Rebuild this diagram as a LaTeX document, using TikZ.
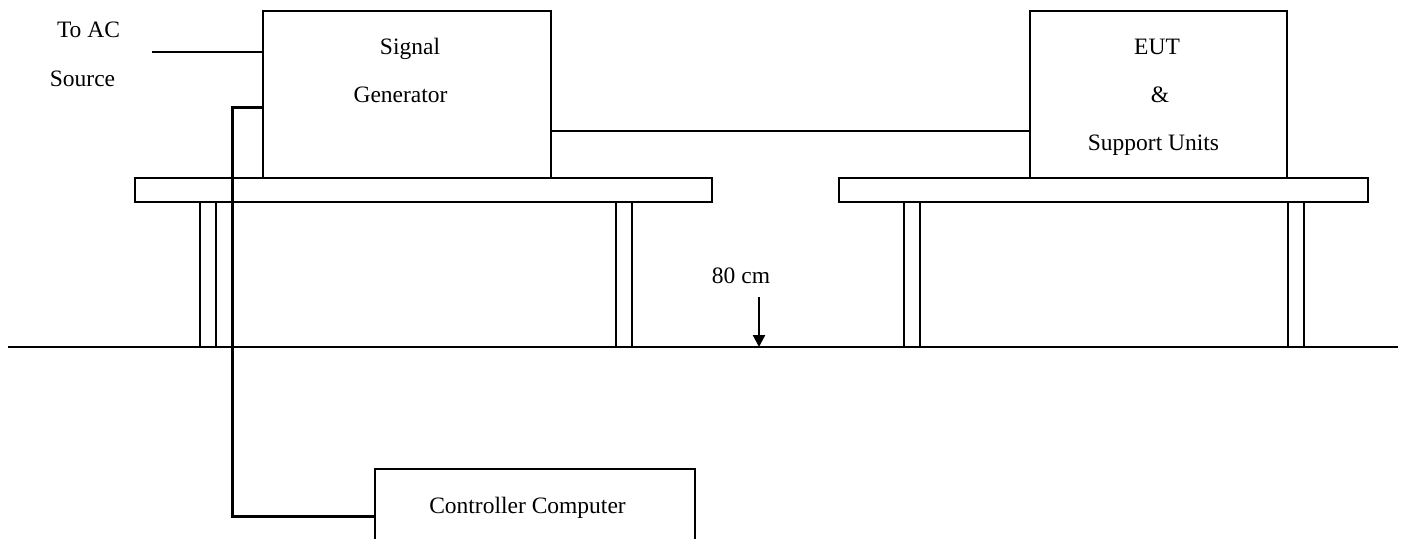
\documentclass[tikz,border=0pt]{standalone}
\usepackage{fontspec}
\setmainfont{Liberation Serif}
\usetikzlibrary{arrows.meta, positioning}
\tikzset{
  unit/.style={rectangle,draw,line width=2pt,inner sep=0pt,outer sep=0pt},
  slab/.style={rectangle,draw,line width=2pt,inner sep=0pt,outer sep=0pt,minimum height=24pt},
  leg/.style={rectangle,draw,line width=2pt,inner sep=0pt,outer sep=0pt,minimum width=16pt,minimum height=145pt},
  lbl/.style={inner sep=0pt,anchor=base,font=\fontsize{23.5}{28}\selectfont},
  wire/.style={line width=2pt},
  cable/.style={line width=3pt},
  line/.style={line width=2.2pt,-{Triangle[length=12pt,width=12pt]}}
}

\begin{document}
\begin{tikzpicture}[x=1pt,y=-1pt]
\useasboundingbox (0,0) rectangle (1402,538);
\clip (0,0) rectangle (1402,538);
% floor
\coordinate (gl) at (8,347);
\coordinate (gr) at (1398,347);
\draw[wire] (gl) -- (gr);
% tables
\node[slab, minimum width=577pt] (tleft) at (423.5,190) {};
\node[slab, minimum width=529pt] (tright) at (1103.5,190) {};
\node[leg] (leg1) at (207.5,274.5) {};
\node[leg] (leg2) at (624,274.5) {};
\node[leg] (leg3) at (911.5,274.5) {};
\node[leg] (leg4) at (1295.5,274.5) {};
% equipment
\node[unit, minimum width=288pt, minimum height=167pt] (sg) at (407,94.5) {};
\node[unit, minimum width=257pt, minimum height=167pt] (eut) at (1158.5,94.5) {};
\node[unit, minimum width=320pt, minimum height=94pt] (cc) at (535,516) {};
% labels
\node[lbl] (sg1) at (410,54) {Signal};
\node[lbl] (sg2) at (400.5,102) {Generator};
\node[lbl] (eut1) at (1157,54) {EUT};
\node[lbl] (eut2) at (1160,102) {\&};
\node[lbl] (eut3) at (1153.5,150) {Support Units};
\node[lbl] (ac1) at (88.5,37) {To AC};
\node[lbl] (ac2) at (82.5,86) {Source};
\node[lbl] (ht) at (741,283) {80 cm};
\node[lbl] (cc1) at (527.5,513) {Controller Computer};
% wiring
\coordinate (ac) at (152,52);
\draw[wire] (ac) -- (ac -| sg.west);
\draw[wire] ([yshift=-36.5pt]sg.east) -- ([yshift=-36.5pt]sg.east -| eut.west);
\draw[cable] ([yshift=-96pt]sg.north west) -- ++(-31,0) |- (cc.west);
\coordinate (arr) at (759,297);
\draw[line] (arr) -- (arr |- gl);
\end{tikzpicture}
\end{document}
